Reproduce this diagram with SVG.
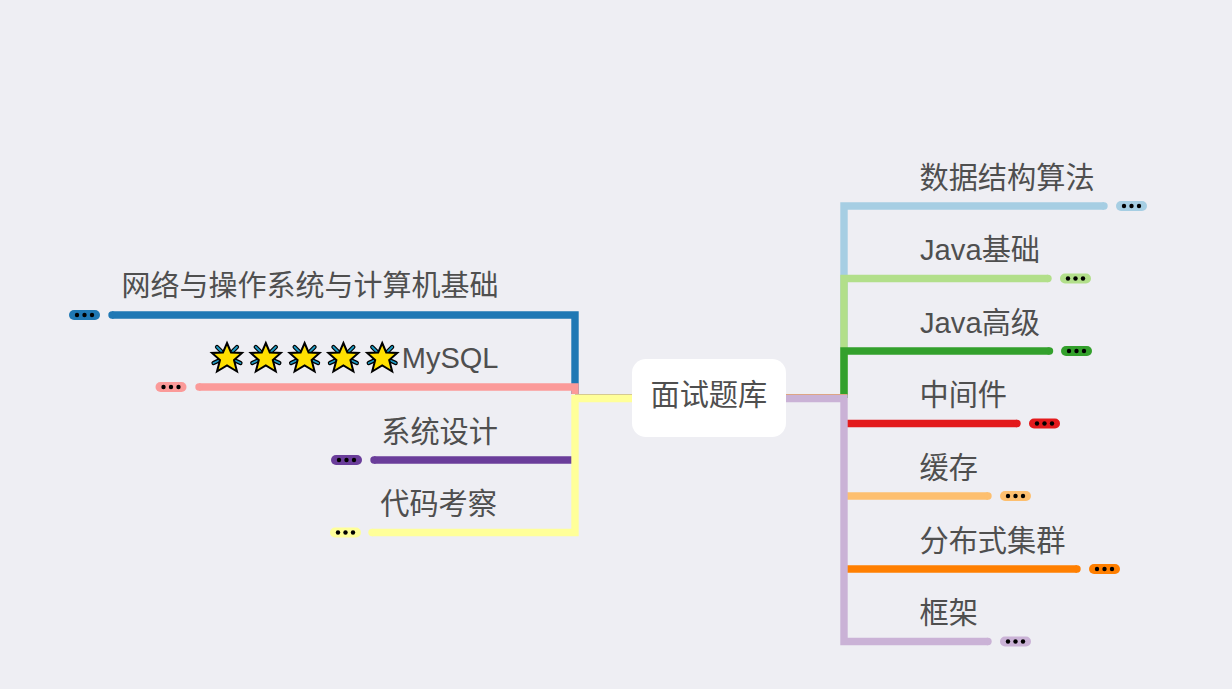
<svg xmlns="http://www.w3.org/2000/svg" width="1232" height="689" viewBox="0 0 1232 689">
<style>
.bg{fill:#eeeef3}
.c{fill:none;stroke-width:7.4;stroke-linejoin:miter;stroke-linecap:butt}
text{font-family:"Liberation Sans","Noto Sans CJK SC",sans-serif;font-size:29.2px;fill:#4f4f4f}
.d{fill:#000}
.r{text-anchor:end}
</style>
<defs>
<g id="dots"><circle class="d" cx="-7.5" cy="0" r="2.200"/><circle class="d" cx="0" cy="0" r="2.200"/><circle class="d" cx="7.500" cy="0" r="2.200"/></g>
<g id="star">
<path d="M-10-10.500L-5-5.500M10-10.500L5-5.500M-13.500 5.500L-7 2.500M13.500 5.500L7 2.500" fill="none" stroke="#000" stroke-width="4.200" stroke-linecap="round"/>
<path d="M-10-10.500L-5-5.500M10-10.500L5-5.500M-13.500 5.500L-7 2.500M13.500 5.500L7 2.500" fill="none" stroke="#1f9bc4" stroke-width="1.800" stroke-linecap="round"/>
<polygon points="0,-14.500 4,-5 15,-4.500 7,2.500 10,14 0,8 -10,14 -7,2.500 -15,-4.500 -4,-5" fill="#ffe000" stroke="#000" stroke-width="2"/>
</g>
</defs>
<rect class="bg" width="1232" height="689"/>
<g id="connectors">
<path class="c" stroke="#a6cee3" d="M844 398V206H1104"/>
<path class="c" stroke="#b2df8a" d="M844 398V278.500H1048"/>
<path class="c" stroke="#33a02c" d="M844 398V351H1049.500"/>
<path class="c" stroke="#e31a1c" d="M844 423.500H1017"/>
<path class="c" stroke="#fdbf6f" d="M844 496H988"/>
<path class="c" stroke="#ff7f00" d="M844 569H1077"/>
<path d="M786 394.500H847.500" stroke="#e3a06a" stroke-width="1.200" fill="none"/>
<path class="c" stroke="#cab2d6" d="M786 398.500H844V641.500H988"/>
<circle cx="1104" cy="206" r="3.700" fill="#a6cee3"/><circle cx="1048" cy="278.500" r="3.700" fill="#b2df8a"/><circle cx="1049.500" cy="351" r="3.700" fill="#33a02c"/><circle cx="1017" cy="423.500" r="3.700" fill="#e31a1c"/><circle cx="988" cy="496" r="3.700" fill="#fdbf6f"/><circle cx="1077" cy="569" r="3.700" fill="#ff7f00"/><circle cx="988" cy="641.500" r="3.700" fill="#cab2d6"/>
<path class="c" stroke="#1f78b4" d="M575 394V315H112"/>
<path class="c" stroke="#fb9a99" d="M575 394V387H199"/>
<path class="c" stroke="#6a3d9a" d="M575 460H374"/>
<path d="M575 394.500H632" stroke="#c9b98f" stroke-width="1.200" fill="none"/>
<path class="c" stroke="#ffff99" d="M632 398.500H575V532.500H372"/>
<circle cx="112" cy="315" r="3.700" fill="#1f78b4"/><circle cx="199" cy="387" r="3.700" fill="#fb9a99"/><circle cx="374" cy="460" r="3.700" fill="#6a3d9a"/><circle cx="372" cy="532.500" r="3.700" fill="#ffff99"/>
</g>
<g id="root"><rect x="632" y="359" width="154" height="78" rx="14" fill="#fff"/><text x="650.500" y="405">面试题库</text></g>
<g id="n1"><text x="919.500" y="188">数据结构算法</text><rect x="1116" y="201" width="31" height="10" rx="5" fill="#a6cee3"/><use href="#dots" x="1131.500" y="206"/></g>
<g id="n2"><text x="920" y="260">Java基础</text><rect x="1060" y="273.500" width="31" height="10" rx="5" fill="#b2df8a"/><use href="#dots" x="1075.500" y="278.500"/></g>
<g id="n3"><text x="920" y="332.500">Java高级</text><rect x="1061" y="346" width="31" height="10" rx="5" fill="#33a02c"/><use href="#dots" x="1076.500" y="351"/></g>
<g id="n4"><text x="919.500" y="405">中间件</text><rect x="1029" y="418.500" width="31" height="10" rx="5" fill="#e31a1c"/><use href="#dots" x="1044.500" y="423.500"/></g>
<g id="n5"><text x="919.500" y="478">缓存</text><rect x="1000" y="491" width="31" height="10" rx="5" fill="#fdbf6f"/><use href="#dots" x="1015.500" y="496"/></g>
<g id="n6"><text x="919.500" y="551">分布式集群</text><rect x="1089" y="564" width="31" height="10" rx="5" fill="#ff7f00"/><use href="#dots" x="1104.500" y="569"/></g>
<g id="n7"><text x="919.500" y="623">框架</text><rect x="1000" y="636.500" width="31" height="10" rx="5" fill="#cab2d6"/><use href="#dots" x="1015.500" y="641.500"/></g>
<g id="n8"><text class="r" x="498.500" y="296" style="font-size:29px">网络与操作系统与计算机基础</text><rect x="69" y="310" width="31" height="10" rx="5" fill="#1f78b4"/><use href="#dots" x="84.500" y="315"/></g>
<g id="n9"><use href="#star" x="227" y="357.500"/><use href="#star" x="265.800" y="357.500"/><use href="#star" x="304.600" y="357.500"/><use href="#star" x="343.400" y="357.500"/><use href="#star" x="382.200" y="357.500"/><text class="r" x="498.500" y="368" style="font-size:29px">MySQL</text><rect x="155.500" y="382" width="31" height="10" rx="5" fill="#fb9a99"/><use href="#dots" x="171" y="387"/></g>
<g id="n10"><text class="r" x="498" y="442">系统设计</text><rect x="331" y="455" width="31" height="10" rx="5" fill="#6a3d9a"/><use href="#dots" x="346.500" y="460"/></g>
<g id="n11"><text class="r" x="497" y="514">代码考察</text><rect x="330" y="527.500" width="31" height="10" rx="5" fill="#ffff99"/><use href="#dots" x="345.500" y="532.500"/></g>
</svg>
